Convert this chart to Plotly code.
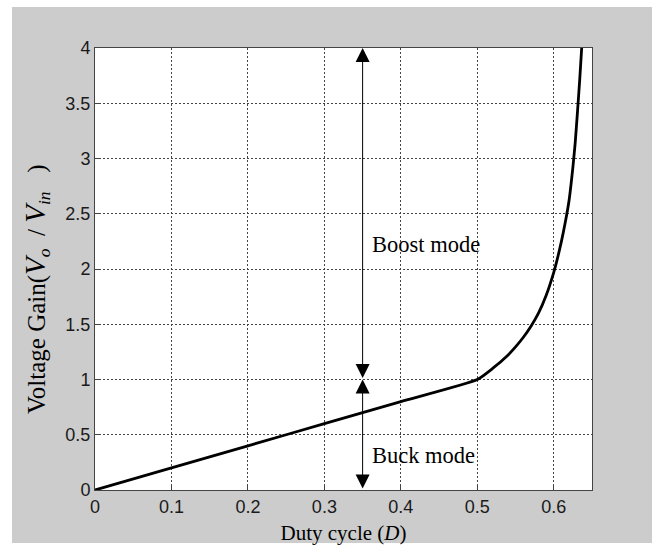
import plotly.graph_objects as go

# Data
duty = [0.0, 0.1, 0.2, 0.3, 0.4, 0.5, 0.52, 0.54, 0.55, 0.56, 0.57, 0.58,
        0.59, 0.60, 0.605, 0.61, 0.615, 0.62, 0.625, 0.628, 0.631, 0.634,
        0.6365]
gain = [0.0, 0.2, 0.4, 0.6, 0.8, 1.0, 1.10, 1.22, 1.295, 1.38, 1.48, 1.60,
        1.76, 1.97, 2.10, 2.25, 2.42, 2.62, 2.92, 3.14, 3.42, 3.72,
        4.0]

x_ticks = [0, 0.1, 0.2, 0.3, 0.4, 0.5, 0.6]
x_tick_labels = ["0", "0.1", "0.2", "0.3", "0.4", "0.5", "0.6"]
y_ticks = [0, 0.5, 1, 1.5, 2, 2.5, 3, 3.5, 4]
y_tick_labels = ["0", "0.5", "1", "1.5", "2", "2.5", "3", "3.5", "4"]

arrow_x = 0.35
boost_range = [1, 4]
buck_range = [0, 1]
labels = [("Boost mode", 2.22), ("Buck mode", 0.31)]

W, H = 672, 545
L, R, T, B = 95, 80, 48, 55
pw, ph = W - L - R, H - T - B

fig = go.Figure()
fig.add_trace(go.Scatter(x=duty, y=gain, mode="lines",
                         line=dict(color="black", width=2.8, shape="spline",
                                   smoothing=0.5),
                         showlegend=False, hoverinfo="skip", cliponaxis=True))

# figure grey background (with white borders) and white plot area
gx0, gx1, gy0, gy1 = 12, 652, 7, 543
fig.add_shape(type="rect", xref="paper", yref="paper",
              x0=(gx0 - L) / pw, x1=(gx1 - L) / pw,
              y0=(H - B - gy1) / ph, y1=(H - B - gy0) / ph,
              fillcolor="#cccccc", line_width=0, layer="below")
fig.add_shape(type="rect", xref="x domain", yref="y domain",
              x0=0, x1=1, y0=0, y1=1, fillcolor="white",
              line_width=0, layer="below")

for lo, hi in (boost_range, buck_range):
    fig.add_annotation(x=arrow_x, y=hi, ax=arrow_x, ay=lo,
                       xref="x", yref="y", axref="x", ayref="y",
                       text="", showarrow=True, arrowside="end+start",
                       arrowhead=2, startarrowhead=2,
                       arrowsize=2.8, startarrowsize=2.8,
                       arrowwidth=1, arrowcolor="black",
                       standoff=0, startstandoff=0)

for txt, yv in labels:
    fig.add_annotation(x=arrow_x, y=yv, xref="x", yref="y", text=txt,
                       showarrow=False, xanchor="left", xshift=7,
                       font=dict(family="Liberation Serif", size=22.5,
                                 color="black"))

# y-axis title as a rotated annotation (placed like the reference)
big_v = "<span style='font-size:29px'><i>V</i></span>"
y_title = ("Voltage Gain(" + big_v + "<sub><i>o</i></sub>&nbsp;&nbsp;/&nbsp;"
           + big_v + "<sub><i>in</i></sub>&nbsp;&nbsp;&nbsp;)")
fig.add_annotation(text=y_title, xref="paper", yref="paper",
                   x=(36 - L) / pw, y=(H - B - 289) / ph,
                   xanchor="center", yanchor="middle", textangle=-90,
                   showarrow=False,
                   font=dict(family="Liberation Serif", size=25,
                             color="black"))

axis_common = dict(showline=True, linecolor="#444444", linewidth=1,
                   mirror=True, ticks="inside", ticklen=5,
                   tickcolor="#444444", showgrid=True,
                   gridcolor="#444444", gridwidth=1, griddash="2px,2px",
                   zeroline=False, automargin=False,
                   tickfont=dict(family="Liberation Sans", size=18,
                                 color="#1a1a1a"))

fig.update_xaxes(range=[0, 0.65], tickvals=x_ticks, ticktext=x_tick_labels,
                 title=dict(text="Duty cycle (<i>D</i>)", standoff=11,
                            font=dict(family="Liberation Serif", size=21,
                                      color="black")),
                 **axis_common)
fig.update_yaxes(range=[0, 4], tickvals=y_ticks, ticktext=y_tick_labels,
                 **axis_common)

fig.update_layout(width=W, height=H,
                  margin=dict(l=L, r=R, t=T, b=B),
                  paper_bgcolor="white", plot_bgcolor="white",
                  showlegend=False)

fig.write_html("out.html")
